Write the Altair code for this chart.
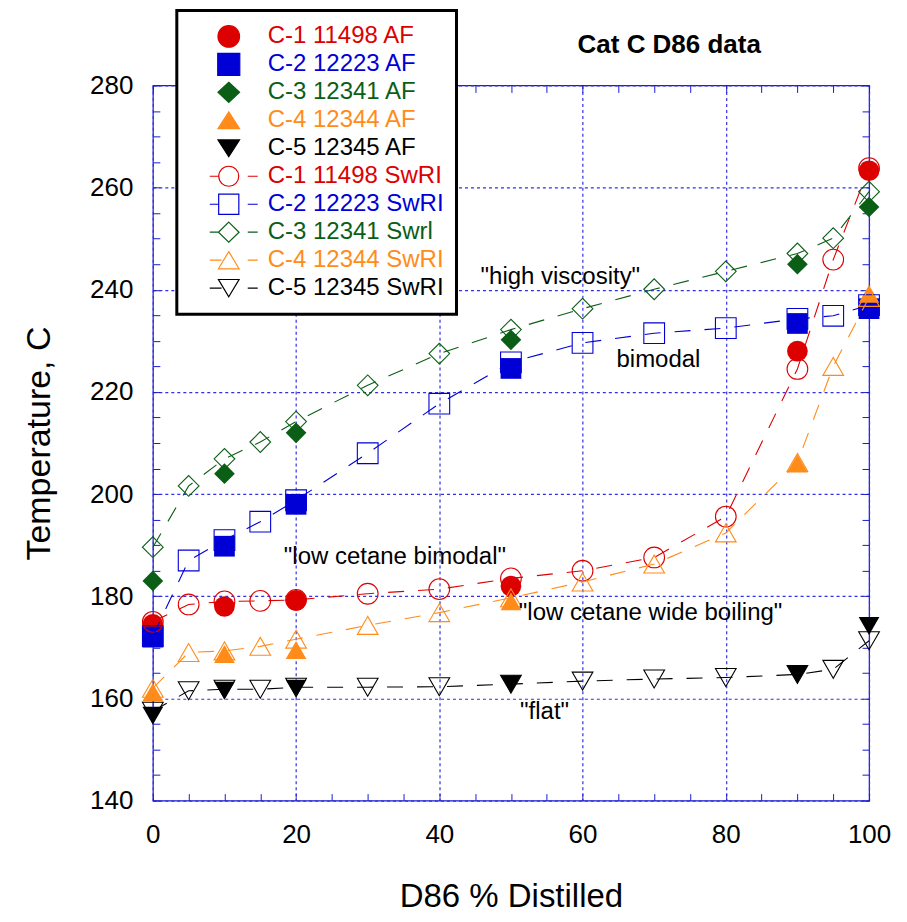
import altair as alt
import pandas as pd

# ---------------- data ----------------
series_names = ["C-1 11498 AF", "C-2 12223 AF", "C-3 12341 AF", "C-4 12344 AF", "C-5 12345 AF",
                "C-1 11498 SwRI", "C-2 12223 SwRI", "C-3 12341 Swrl", "C-4 12344 SwRI", "C-5 12345 SwRI"]
series_colors = ["#dd0000", "#0000d6", "#0b5e16", "#ff8c1a", "#000000",
                 "#dd0000", "#0000d6", "#0b5e16", "#ff8c1a", "#000000"]

pct_af = [0, 10, 20, 50, 90, 100]
af_c1 = [174.5, 178.0, 179.2, 182.0, 228.0, 263.3]
af_c2 = [172.0, 189.8, 198.0, 224.6, 233.4, 236.3]
af_c3 = [183.0, 204.0, 212.0, 230.2, 245.0, 256.2]
af_c4 = [161.2, 168.7, 169.5, 179.0, 206.0, 239.2]
af_c5 = [156.6, 161.5, 161.9, 162.8, 164.7, 174.2]

pct_swri = [0, 5, 10, 15, 20, 30, 40, 50, 60, 70, 80, 90, 95, 100]
swri_c1 = [175.0, 178.4, 179.0, 179.1, 179.3, 180.5, 181.4, 183.5, 185.0, 187.6, 195.6, 224.5, 245.9, 263.8]
swri_c2 = [172.2, 187.0, 191.0, 194.6, 198.8, 208.0, 217.7, 225.8, 229.6, 231.5, 232.5, 234.3, 234.9, 237.0]
swri_c3 = [189.6, 201.6, 206.9, 210.2, 214.2, 221.3, 227.5, 232.2, 236.3, 240.1, 243.6, 247.1, 250.1, 259.2]
swri_c4 = [162.0, 169.0, 169.3, 170.2, 171.6, 174.3, 176.8, 179.7, 182.8, 186.3, 192.4, 206.2, 225.0, 238.5]
swri_c5 = [157.5, 161.5, 161.8, 161.8, 162.2, 162.2, 162.3, 162.8, 163.4, 163.8, 164.1, 164.7, 165.7, 171.3]

note_text = ['"high viscosity"', 'bimodal', '"low cetane bimodal"', '"low cetane wide boiling"', '"flat"']
note_x = [56.9, 70.6, 33.8, 69.5, 54.7]
note_y = [242.5, 226.3, 187.6, 176.8, 157.3]

title_text = ["Cat C D86 data"]
title_x = [72.1]
title_y = [288.0]

# ---------------- tables ----------------
af_vals = [af_c1, af_c2, af_c3, af_c4, af_c5]
swri_vals = [swri_c1, swri_c2, swri_c3, swri_c4, swri_c5]
rows = []
for i, vals in enumerate(af_vals):
    for p, t in zip(pct_af, vals):
        rows.append({"pct": p, "temp": t, "series": series_names[i]})
for i, vals in enumerate(swri_vals):
    for p, t in zip(pct_swri, vals):
        rows.append({"pct": p, "temp": t, "series": series_names[5 + i]})
df = pd.DataFrame(rows)
notes = pd.DataFrame({"pct": note_x, "temp": note_y, "label": note_text})
titles = pd.DataFrame({"pct": title_x, "temp": title_y, "label": title_text})

# ---------------- styling ----------------
FONT = "Liberation Sans"
AXBLUE = "#1a1ad0"
GRIDBLUE = "#3030e6"
SIZE = 430
shapes = ["circle", "square", "diamond", "triangle-up", "triangle-down"]

xs = alt.Scale(domain=[0, 100], nice=False, zero=False)
ys = alt.Scale(domain=[140, 280], nice=False, zero=False)

x_main = alt.Axis(values=list(range(0, 101, 20)), grid=True, ticks=False, domain=False,
                  gridColor=GRIDBLUE, gridDash=[3, 3], gridWidth=1.2,
                  labelFontSize=26, labelFont=FONT, labelColor="black", labelPadding=21,
                  labelFlush=False,
                  title="D86 % Distilled", titleFontSize=33, titleFont=FONT,
                  titleFontWeight="normal", titleColor="black",
                  titleY=106, titleBaseline="alphabetic")
y_main = alt.Axis(values=list(range(140, 281, 20)), grid=True, ticks=False, domain=False,
                  gridColor=GRIDBLUE, gridDash=[3, 3], gridWidth=1.2,
                  labelFontSize=26, labelFont=FONT, labelColor="black", labelPadding=20,
                  labelFlush=False,
                  title="Temperature, C", titleFontSize=34, titleFont=FONT,
                  titleFontWeight="normal", titleColor="black",
                  titleX=-113, titleY=358, titleAngle=-90, titleBaseline="middle", titleAlign="center")


def tick_axis(orient, vals):
    return alt.Axis(orient=orient, offset=-7, tickSize=7, tickColor=AXBLUE, tickWidth=1,
                    values=vals, labels=False, domain=False, grid=False, title=None)


x_ticks = list(range(0, 101, 5))
y_ticks = list(range(140, 281, 5))
axes_x = [x_main, tick_axis("bottom", x_ticks), tick_axis("top", x_ticks)]
axes_y = [y_main, tick_axis("left", y_ticks), tick_axis("right", y_ticks)]

layers = []
k = 0


def enc(ch, axis_idx):
    ax_x = axes_x[axis_idx] if axis_idx is not None else None
    ax_y = axes_y[axis_idx] if axis_idx is not None else None
    return ch.encode(x=alt.X("pct:Q", scale=xs, axis=ax_x),
                     y=alt.Y("temp:Q", scale=ys, axis=ax_y))


base = alt.Chart(df)
# AF filled points
for i in range(5):
    name = series_names[i]
    ch = base.transform_filter(alt.datum.series == name).mark_point(
        shape=shapes[i], filled=True, size=SIZE, color=series_colors[i], opacity=1, strokeWidth=0)
    layers.append(enc(ch, k if k < 3 else None))
    k += 1

# SwRI dashed lines + open points
for i in range(5):
    name = series_names[5 + i]
    ln = base.transform_filter(alt.datum.series == name).mark_line(
        color=series_colors[5 + i], strokeWidth=1.1, strokeDash=[16, 14])
    layers.append(enc(ln, None))
    pt = base.transform_filter(alt.datum.series == name).mark_point(
        shape=shapes[i], filled=False, size=SIZE, color=series_colors[5 + i], opacity=1,
        strokeWidth=1.1)
    layers.append(enc(pt, None))

# annotations
layers.append(alt.Chart(notes).mark_text(fontSize=24, font=FONT, color="black",
                                         align="center", baseline="middle").encode(
    x=alt.X("pct:Q", scale=xs, axis=None), y=alt.Y("temp:Q", scale=ys, axis=None), text="label:N"))
layers.append(alt.Chart(titles).mark_text(fontSize=26, font=FONT, fontWeight="bold", color="black",
                                          align="center", baseline="middle").encode(
    x=alt.X("pct:Q", scale=xs, axis=None), y=alt.Y("temp:Q", scale=ys, axis=None), text="label:N"))

# ---------------- legend (custom symbols) ----------------
CX = -0.208


def f(v):
    return f"{v:.3f}"


def circle_p(r):
    return (f"M{f(CX - r)},0A{f(r)},{f(r)} 0 1,1 {f(CX + r)},0"
            f"A{f(r)},{f(r)} 0 1,1 {f(CX - r)},0Z")


def square_p(h):
    return f"M{f(CX - h)},{f(-h)}H{f(CX + h)}V{f(h)}H{f(CX - h)}Z"


def diamond_p(w, h):
    return f"M{f(CX)},{f(-h)}L{f(CX + w)},0L{f(CX)},{f(h)}L{f(CX - w)},0Z"


def tri_up_p(w, h):
    return f"M{f(CX)},{f(-h)}L{f(CX + w)},{f(h)}L{f(CX - w)},{f(h)}Z"


def tri_dn_p(w, h):
    return f"M{f(CX)},{f(h)}L{f(CX + w)},{f(-h)}L{f(CX - w)},{f(-h)}Z"


def stubs(left_end):
    return f"M-1,0H{f(left_end)}M0.583,0H1"


af_paths = [circle_p(0.45), square_p(0.46), diamond_p(0.45, 0.42), tri_up_p(0.45, 0.35), tri_dn_p(0.45, 0.35)]
sw_paths = [circle_p(0.417) + stubs(CX - 0.417), square_p(0.42) + stubs(CX - 0.42),
            diamond_p(0.43, 0.42) + stubs(CX - 0.43), tri_up_p(0.43, 0.36) + stubs(CX - 0.3),
            tri_dn_p(0.43, 0.36) + stubs(CX - 0.3)]
legend_paths = af_paths + sw_paths
legend_fill = series_colors[:5] + ["transparent"] * 5

color_expr = ("[" + ",".join(f"'{c}'" for c in series_colors) + "][indexof(["
              + ",".join(f"'{s}'" for s in series_names) + "], datum.value)]")

leg = alt.Legend(title=None, orient="none", legendX=24, legendY=-75, direction="vertical",
                 symbolSize=2304, symbolStrokeWidth=1.2, symbolOffset=20,
                 labelFontSize=24, labelFont=FONT, labelColor=alt.ExprRef(expr=color_expr),
                 labelOffset=9, labelLimit=400, clipHeight=27.9, rowPadding=0, padding=12,
                 strokeColor="black", fillColor="white", zindex=2)

legend_layer = alt.Chart(df).transform_filter("false").mark_point(
    size=2304, opacity=1, strokeWidth=1.2).encode(
    x=alt.X("pct:Q", scale=xs, axis=None),
    y=alt.Y("temp:Q", scale=ys, axis=None),
    shape=alt.Shape("series:N", scale=alt.Scale(domain=series_names, range=legend_paths), legend=leg),
    fill=alt.Fill("series:N", scale=alt.Scale(domain=series_names, range=legend_fill), legend=leg),
    stroke=alt.Stroke("series:N", scale=alt.Scale(domain=series_names, range=series_colors), legend=leg),
)
layers.append(legend_layer)

chart = alt.layer(*layers).resolve_axis(x="independent", y="independent").properties(
    width=717, height=716,
    padding={"left": 145, "top": 77, "right": 30, "bottom": 113},
    autosize=alt.AutoSizeParams(type="none"),
    background="white",
).configure_view(stroke=AXBLUE, strokeWidth=1.2).configure_legend(strokeWidth=3)

chart.save("out.html", embed_options={"renderer": "svg", "actions": False})
